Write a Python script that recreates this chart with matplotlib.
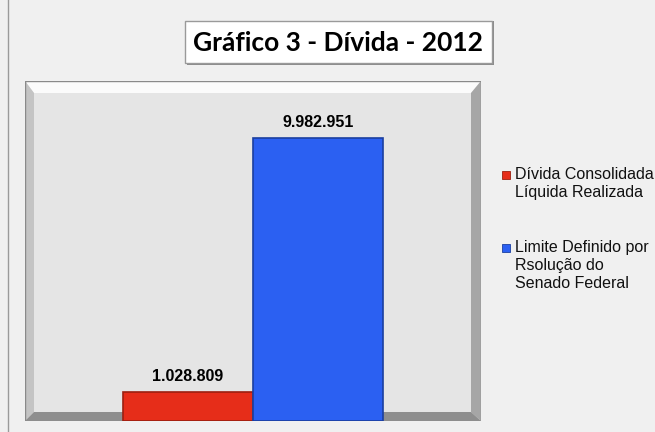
import matplotlib.pyplot as plt
from matplotlib.patches import Polygon, Rectangle

# dados
series = ["Dívida Consolidada\nLíquida Realizada",
          "Limite Definido por\nRsolução do\nSenado Federal"]
valores = [1028809, 9982951]
rotulos = ["1.028.809", "9.982.951"]
cores = ["#e62d19", "#2b60f2"]
bordas = ["#9c1f10", "#1b3fa0"]

W, H = 655, 432
fig = plt.figure(figsize=(W / 100, H / 100), dpi=100, facecolor="#f0f0f0")


def fx(px):
    return px / W


def fy(py):
    return 1 - py / H


# linha da borda esquerda
fig.add_artist(plt.Line2D([fx(8), fx(8)], [0, 1], color="#9a9a9a", lw=1))

# caixa do título
fig.add_artist(Rectangle((fx(187), fy(65)), 307 / W, 44 / H,
                         facecolor="#8c8c8c", edgecolor="none"))
fig.add_artist(Rectangle((fx(185), fy(63)), 307 / W, 42 / H,
                         facecolor="#ffffff", edgecolor="#9a9a9a", lw=1))
fig.text(fx(338), fy(43), "Gráfico 3 - Dívida - 2012", ha="center", va="center",
         fontsize=19, fontweight="bold", family="Lato", color="black")

# área do gráfico
x0, x1, y0, y1 = 25, 481, 81, 421
ax = fig.add_axes([fx(x0), fy(y1), (x1 - x0) / W, (y1 - y0) / H])
ax.set_xlim(-1, 1)
ax.set_ylim(0, 12000000)
ax.axis("off")

# moldura em relevo
bt, bl, br, bb = 12 / (y1 - y0), 9 / (x1 - x0), 10 / (x1 - x0), 9 / (y1 - y0)
tr = ax.transAxes
ax.add_patch(Rectangle((0, 0), 1, 1, transform=tr, facecolor="#e5e5e5",
                       edgecolor="#8a8a8a", lw=1, zorder=0))
ax.add_patch(Polygon([(0, 1), (1, 1), (1 - br, 1 - bt), (bl, 1 - bt)],
                     transform=tr, facecolor="#fbfbfb", edgecolor="none", zorder=1))
ax.add_patch(Polygon([(0, 0), (0, 1), (bl, 1 - bt), (bl, bb)],
                     transform=tr, facecolor="#c4c4c4", edgecolor="none", zorder=1))
ax.add_patch(Polygon([(1, 0), (1, 1), (1 - br, 1 - bt), (1 - br, bb)],
                     transform=tr, facecolor="#a6a6a6", edgecolor="none", zorder=1))
ax.add_patch(Polygon([(0, 0), (1, 0), (1 - br, bb), (bl, bb)],
                     transform=tr, facecolor="#8e8e8e", edgecolor="none", zorder=1))
ax.add_patch(Rectangle((0, 0), 1, 1, transform=tr, facecolor="none",
                       edgecolor="#8a8a8a", lw=1, zorder=2))

# barras
largura = 0.572
posicoes = [-largura / 2, largura / 2]
ax.bar(posicoes, valores, width=largura, color=cores, edgecolor=bordas,
       linewidth=1.2, zorder=3)
for p, v, r in zip(posicoes, valores, rotulos):
    ax.annotate(r, (p, v), xytext=(0, 6), textcoords="offset points",
                ha="center", va="bottom", fontsize=11.5, fontweight="bold",
                family="Liberation Sans", zorder=4)

# legenda
leg_y = [175, 248]
for c, b, nome, ly in zip(cores, bordas, series, leg_y):
    fig.add_artist(Rectangle((fx(502), fy(ly + 4)), 8 / W, 8 / H,
                             facecolor=c, edgecolor=b, lw=0.6))
    fig.text(fx(515), fy(ly - 8), nome, ha="left", va="top", fontsize=11.5,
             family="Liberation Sans", linespacing=1.25, color="#111111")

fig.savefig("out.png", dpi=100, facecolor=fig.get_facecolor())
